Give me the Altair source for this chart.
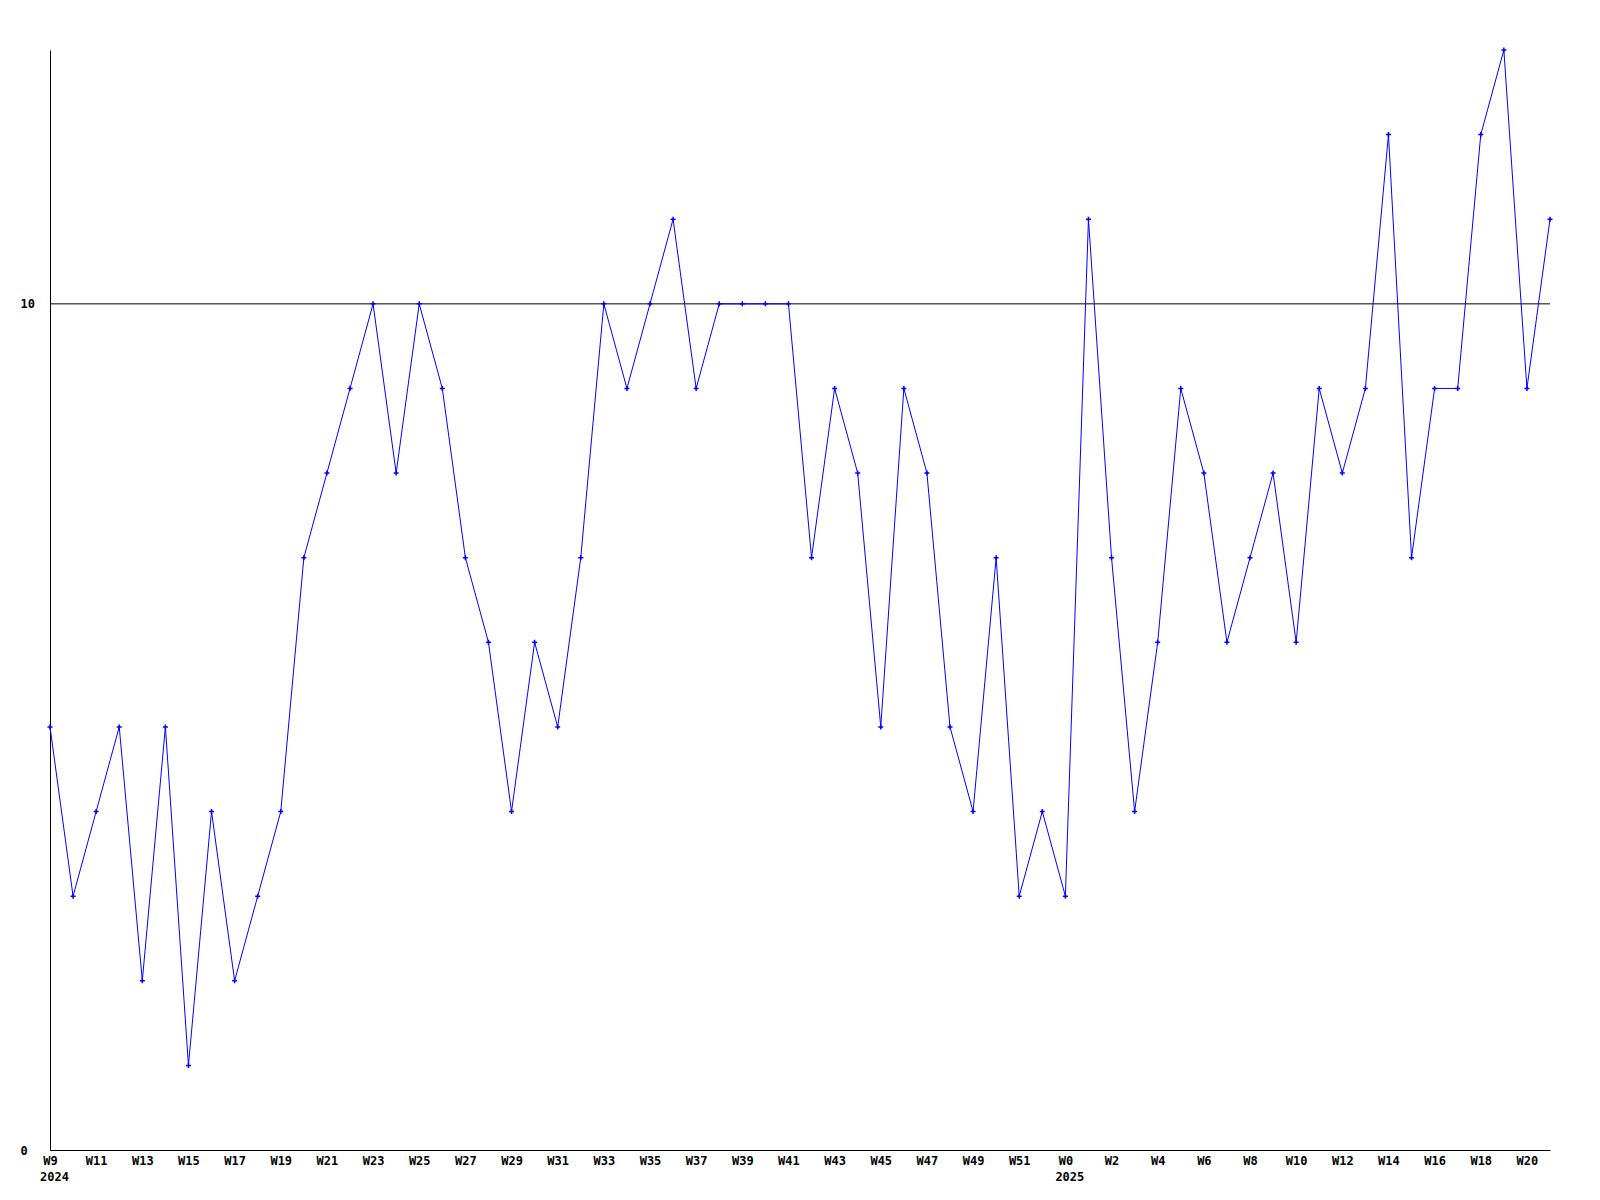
import altair as alt
import pandas as pd

week_labels = [
    "W9", "W10", "W11", "W12", "W13", "W14", "W15", "W16", "W17", "W18",
    "W19", "W20", "W21", "W22", "W23", "W24", "W25", "W26", "W27", "W28",
    "W29", "W30", "W31", "W32", "W33", "W34", "W35", "W36", "W37", "W38",
    "W39", "W40", "W41", "W42", "W43", "W44", "W45", "W46", "W47", "W48",
    "W49", "W50", "W51", "W52",
    "W0", "W1", "W2", "W3", "W4", "W5", "W6", "W7", "W8", "W9",
    "W10", "W11", "W12", "W13", "W14", "W15", "W16", "W17", "W18", "W19",
    "W20", "W21",
]
values = [
    5, 3, 4, 5, 2, 5, 1, 4, 2, 3,
    4, 7, 8, 9, 10, 8, 10, 9, 7, 6,
    4, 6, 5, 7, 10, 9, 10, 11, 9, 10,
    10, 10, 10, 7, 9, 8, 5, 9, 8, 5,
    4, 7, 3, 4,
    3, 11, 7, 4, 6, 9, 8, 6, 7, 8,
    6, 9, 8, 9, 12, 7, 9, 9, 12, 13,
    9, 11,
]
year_labels = ["2024", "2025"]
year_start_index = [0, 44]
y_ticks = [0, 10]
ref_value = 10

idx = list(range(len(values)))
df = pd.DataFrame({"i": idx, "v": values, "week": week_labels})
years = pd.DataFrame({"i": year_start_index, "year": year_labels})

FONT = "DejaVu Sans Mono"
FS = 12
BLUE = "#0000ff"

label_arr = "[" + ",".join("'" + w + "'" for w in week_labels) + "]"

xscale = alt.Scale(domain=[0, len(values) - 1], nice=False, zero=False)
yscale = alt.Scale(domain=[0, 13], nice=False)

xaxis = alt.Axis(
    values=idx[::2], labelExpr=label_arr + "[datum.value]", ticks=False, tickSize=0,
    grid=False, domainColor="black", domainWidth=1, labelFont=FONT, labelFontSize=FS,
    labelFontWeight="bold", labelColor="black", labelPadding=5, title=None,
    labelFlush=False, labelOverlap=False, labelBaseline="top",
)
yaxis = alt.Axis(
    values=y_ticks, format="d", ticks=False, tickSize=0, grid=False, domainColor="black",
    domainWidth=1, labelFont=FONT, labelFontSize=FS, labelFontWeight="bold",
    labelColor="black", labelAlign="left", labelPadding=30, title=None,
    labelBaseline="middle", labelFlush=False,
)

base = alt.Chart(df)

line = base.mark_line(color=BLUE, strokeWidth=1).encode(
    x=alt.X("i:Q", scale=xscale, axis=xaxis),
    y=alt.Y("v:Q", scale=yscale, axis=yaxis),
)

pts = base.mark_point(
    shape="M-1,0H1M0,-1V1", size=25, color=BLUE, strokeWidth=1.5, filled=False, opacity=1
).encode(
    x=alt.X("i:Q", scale=xscale),
    y=alt.Y("v:Q", scale=yscale),
)

rule = alt.Chart(pd.DataFrame({"r": [ref_value]})).mark_rule(color="black", strokeWidth=1).encode(
    y=alt.Y("r:Q", scale=yscale),
)

year_text = alt.Chart(years).mark_text(
    font=FONT, fontSize=FS, fontWeight="bold", color="black", align="left",
    baseline="middle", dx=-10,
).encode(
    x=alt.X("i:Q", scale=xscale),
    y=alt.value(1127),
    text="year:N",
)

chart = alt.layer(rule, line, pts, year_text).properties(
    width=1500,
    height=1100,
    autosize=alt.AutoSizeParams(type="none"),
    padding={"left": 42, "top": 42, "right": 20, "bottom": 40},
    background="white",
).configure_view(strokeWidth=0)

chart.save("out.html", embed_options={"renderer": "svg", "actions": False})
